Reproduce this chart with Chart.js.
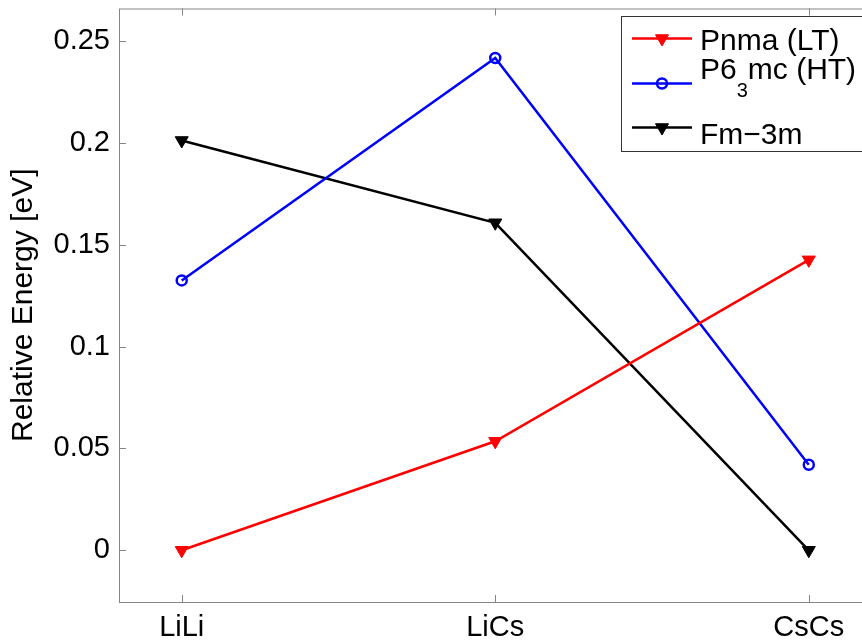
<!DOCTYPE html>
<html lang="en">
<head>
    <meta charset="UTF-8">
    <title>Relative Energy</title>
    <script src="https://cdn.jsdelivr.net/npm/chart.js"></script>
    <style>
        html, body { margin: 0; padding: 0; background: #fff; overflow: hidden; }
        #chart { display: block; }
    </style>
</head>
<body>
    <canvas id="chart" width="880" height="644"></canvas>
    <script>
        // values
        const categories = ['LiLi', 'LiCs', 'CsCs'];
        const pnma = [0, 0.0535, 0.1426];
        const p63mc = [0.1325, 0.2417, 0.0420];
        const fm3m = [0.2012, 0.1608, 0];
        const yTicks = [0, 0.05, 0.1, 0.15, 0.2, 0.25];
        const seriesNames = ['Pnma (LT)', 'P6\u2083mc (HT)', 'Fm\u22123m'];

        const FONT = '"Liberation Sans", Arial, Helvetica, sans-serif';
        const AXIS_COLOR = '#858585';

        function toPoints(arr) {
            return arr.map((v, i) => ({ x: i + 1, y: v }));
        }

        // axis box with inward ticks, like matlab
        const boxPlugin = {
            id: 'box',
            afterDatasetsDraw(chart) {
                const { ctx, chartArea: a, scales } = chart;
                ctx.save();
                ctx.strokeStyle = AXIS_COLOR;
                ctx.lineWidth = 1;
                ctx.strokeRect(a.left + 0.5, a.top + 0.5, a.right - a.left, a.bottom - a.top);
                ctx.beginPath();
                const tl = 7;
                yTicks.forEach(v => {
                    const y = Math.round(scales.y.getPixelForValue(v)) + 0.5;
                    ctx.moveTo(a.left, y); ctx.lineTo(a.left + tl, y);
                    ctx.moveTo(a.right, y); ctx.lineTo(a.right - tl, y);
                });
                categories.forEach((c, i) => {
                    const x = Math.round(scales.x.getPixelForValue(i + 1)) + 0.5;
                    ctx.moveTo(x, a.top); ctx.lineTo(x, a.top + tl);
                    ctx.moveTo(x, a.bottom); ctx.lineTo(x, a.bottom - tl);
                });
                ctx.stroke();
                ctx.restore();
            }
        };

        // text with unicode subscript digits drawn as small lowered digits
        function drawRich(ctx, text, x, y, size) {
            const parts = text.split(/([\u2080-\u2089]+)/);
            parts.forEach(p => {
                if (!p) return;
                if (/^[\u2080-\u2089]+$/.test(p)) {
                    const digits = p.replace(/[\u2080-\u2089]/g, ch => String(ch.charCodeAt(0) - 0x2080));
                    ctx.font = Math.round(size * 0.67) + 'px ' + FONT;
                    ctx.fillText(digits, x, y + size * 0.6);
                    x += ctx.measureText(digits).width;
                } else {
                    ctx.font = size + 'px ' + FONT;
                    ctx.fillText(p, x, y);
                    x += ctx.measureText(p).width;
                }
            });
        }

        const legendPlugin = {
            id: 'boxLegend',
            afterDraw(chart) {
                const ctx = chart.ctx;
                const bx = 621.5, by = 16.5, bw = 260, bh = 135;
                const rowY = [38.5, 83.5, 127.5];
                const textY = [49.5, 78.5, 143.5];
                ctx.save();
                ctx.fillStyle = '#fff';
                ctx.fillRect(bx, by, bw, bh);
                ctx.strokeStyle = '#333';
                ctx.lineWidth = 1;
                ctx.strokeRect(bx, by, bw, bh);
                chart.data.datasets.forEach((ds, i) => {
                    const y = rowY[i];
                    ctx.strokeStyle = ds.borderColor;
                    ctx.lineWidth = ds.borderWidth;
                    ctx.beginPath();
                    ctx.moveTo(632, y); ctx.lineTo(692, y);
                    ctx.stroke();
                    ctx.fillStyle = ds.pointBackgroundColor;
                    ctx.strokeStyle = ds.pointBorderColor;
                    ctx.lineWidth = ds.pointBorderWidth;
                    Chart.helpers.drawPoint(ctx, {
                        pointStyle: ds.pointStyle,
                        rotation: ds.pointRotation,
                        radius: ds.pointRadius,
                        borderWidth: ds.pointBorderWidth
                    }, 662, y);
                    ctx.fillStyle = '#000';
                    ctx.textBaseline = 'alphabetic';
                    ctx.textAlign = 'left';
                    drawRich(ctx, ds.label, 700, textY[i], 30);
                });
                ctx.restore();
            }
        };

        const common = { borderWidth: 2.5, tension: 0, fill: false };

        new Chart(document.getElementById('chart'), {
            type: 'line',
            data: {
                datasets: [
                    Object.assign({
                        label: seriesNames[0], data: toPoints(pnma),
                        borderColor: '#ff0000', pointBackgroundColor: '#ff0000', pointBorderColor: '#ff0000',
                        pointStyle: 'triangle', pointRotation: 180, pointRadius: 7.5, pointBorderWidth: 1
                    }, common),
                    Object.assign({
                        label: seriesNames[1], data: toPoints(p63mc),
                        borderColor: '#0000ff', pointBackgroundColor: 'rgba(0,0,0,0)', pointBorderColor: '#0000ff',
                        pointStyle: 'circle', pointRotation: 0, pointRadius: 5, pointBorderWidth: 2.5
                    }, common),
                    Object.assign({
                        label: seriesNames[2], data: toPoints(fm3m),
                        borderColor: '#000000', pointBackgroundColor: '#000000', pointBorderColor: '#000000',
                        pointStyle: 'triangle', pointRotation: 180, pointRadius: 7.5, pointBorderWidth: 1
                    }, common)
                ]
            },
            options: {
                responsive: false,
                animation: false,
                layout: { padding: { top: 6, right: 8, left: 0, bottom: 0 } },
                plugins: { legend: { display: false }, tooltip: { enabled: false } },
                scales: {
                    x: {
                        type: 'linear', min: 0.8, max: 3.2,
                        grid: { display: false, drawTicks: false },
                        border: { display: false },
                        afterBuildTicks: s => { s.ticks = categories.map((c, i) => ({ value: i + 1 })); },
                        afterFit: s => { s.height = 42; s.paddingLeft = 0; s.paddingRight = 0; },
                        ticks: {
                            color: '#000', padding: 9, maxRotation: 0,
                            font: { family: FONT, size: 29 },
                            callback: v => categories[v - 1]
                        }
                    },
                    y: {
                        type: 'linear', min: -0.0254, max: 0.266,
                        grid: { display: false, drawTicks: false },
                        border: { display: false },
                        afterBuildTicks: s => { s.ticks = yTicks.map(v => ({ value: v })); },
                        afterFit: s => { s.width = 119; s.paddingTop = 0; s.paddingBottom = 0; },
                        ticks: {
                            color: '#000', padding: 9,
                            font: { family: FONT, size: 29 },
                            callback: v => String(+v.toFixed(2))
                        },
                        title: {
                            display: true, text: 'Relative Energy [eV]', color: '#000',
                            font: { family: FONT, size: 30 },
                            padding: { top: 6, bottom: 0 }
                        }
                    }
                }
            },
            plugins: [boxPlugin, legendPlugin]
        });
    </script>
</body>
</html>
